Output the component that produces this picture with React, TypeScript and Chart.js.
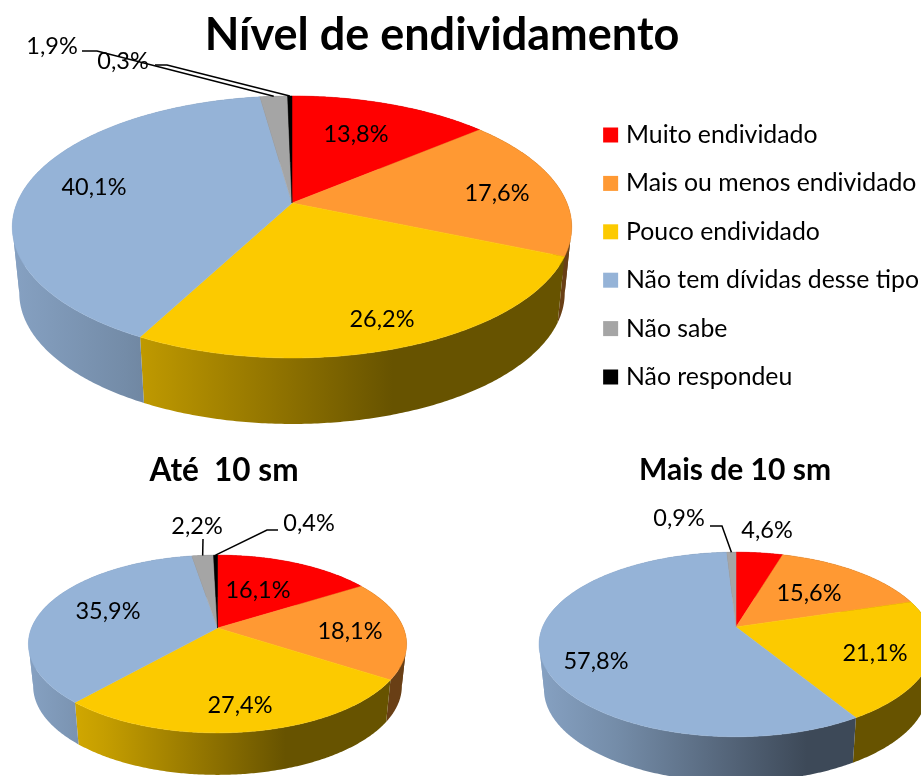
import React, { useEffect, useRef } from "react";
import { Chart, registerables } from "chart.js";

Chart.register(...registerables);

const categories = ["Muito endividado", "Mais ou menos endividado", "Pouco endividado", "Não tem dívidas desse tipo", "Não sabe", "Não respondeu"];
const geralValues = [13.8, 17.6, 26.2, 40.1, 1.9, 0.3];
const ate10Values = [16.1, 18.1, 27.4, 35.9, 2.2, 0.4];
const mais10Values = [4.6, 15.6, 21.1, 57.8, 0.9];
const colors = ["#FF0000", "#FF9933", "#FCCA00", "#95B3D7", "#A5A5A5", "#000000"];

const FONT = "Lato, Carlito, Calibri, sans-serif";
const LABEL_SIZE = 23.5;
const WALL_SCALE = 0.975;

// shade of the pie's side wall across its width
const wallShade: [number, number][] = [[0, 0.9], [0.2, 0.78], [0.5, 0.55], [0.68, 0.41], [1, 0.41]];

type Cfg = {
  title: string; titleX: number; titleSize: number; titleTop: number;
  values: number[]; legend: boolean; width: number; height: number;
  cx: number; cy: number; A: number; B: number; p: number; depth: number;
  labelAt: [number, number][];
  leaders: Record<number, [number, number][]>;
};

const configs: Cfg[] = [
  {
    title: "Nível de endividamento", titleX: 442, titleSize: 45, titleTop: 8,
    values: geralValues, legend: true, width: 929, height: 512,
    cx: 292, cy: 203, A: 275, B: 126.6, p: 0.183, depth: 66,
    labelAt: [[356, 134], [497, 193], [382, 319], [94, 187], [52, 46], [123, 61]],
    leaders: { 4: [[82, 51], [97, 51]], 5: [[155, 65], [167, 65]] },
  },
  {
    title: "Até  10 sm", titleX: 224, titleSize: 31.5, titleTop: 452,
    values: ate10Values, legend: false, width: 921, height: 776,
    cx: 217.5, cy: 628, A: 186, B: 86, p: 0.18, depth: 42,
    labelAt: [[258, 590], [350, 631], [240, 705], [108, 611], [197, 526], [309, 523]],
    leaders: { 4: [[203, 539]], 5: [[278, 530], [267, 530]] },
  },
  {
    title: "Mais de 10 sm", titleX: 735, titleSize: 30, titleTop: 452,
    values: mais10Values, legend: false, width: 921, height: 776,
    cx: 736, cy: 627, A: 193.4, B: 89, p: 0.189, depth: 45,
    labelAt: [[767, 530], [809, 593], [875, 653], [596, 661], [679, 518]],
    leaders: { 4: [[710, 526], [722, 526]] },
  },
];

const fmt = (v: number) => v.toFixed(1).replace(".", ",") + "%";

function shade(hex: string, k: number) {
  const n = parseInt(hex.slice(1), 16);
  return `rgb(${Math.round(((n >> 16) & 255) * k)},${Math.round(((n >> 8) & 255) * k)},${Math.round((n & 255) * k)})`;
}

// cut a rim into runs between its leftmost and rightmost points
function splitAtExtremes(pts: number[][]) {
  const runs: number[][][] = [];
  let run: number[][] = [pts[0]];
  for (let j = 1; j < pts.length; j++) {
    run.push(pts[j]);
    const next = pts[j + 1];
    if (next && (pts[j][0] - pts[j - 1][0]) * (next[0] - pts[j][0]) < 0) {
      runs.push(run);
      run = [pts[j]];
    }
  }
  runs.push(run);
  return runs;
}

function perspectivePlugin(cfg: Cfg) {
  const project = (a: number, r = 1) => {
    const u = Math.cos(a) * r, v = Math.sin(a) * r;
    const w = 1 - cfg.p * v;
    return [cfg.cx + (cfg.A * u) / w, cfg.cy + (cfg.B * v) / w];
  };
  const arcPoints = (s: number, e: number) => {
    const n = Math.max(2, Math.ceil(Math.abs(e - s) / 0.01));
    const pts: number[][] = [];
    for (let i = 0; i <= n; i++) pts.push(project(s + ((e - s) * i) / n));
    return pts;
  };
  return {
    id: "perspectivePie",
    afterLayout(chart: any) {
      const t = chart.titleBlock;
      if (t) {
        const half = Math.max(t.right - cfg.titleX, cfg.titleX - t.left);
        t.left = cfg.titleX - half;
        t.right = cfg.titleX + half;
      }
    },
    beforeDatasetDraw(chart: any) {
      const ctx = chart.ctx;
      const arcs = chart.getDatasetMeta(0).data;
      const halfW = cfg.A / Math.sqrt(1 - cfg.p * cfg.p);
      ctx.save();
      // side walls, one band per run so the silhouette is closed at the tangent points;
      // the lower rim is farther from the viewer, so slightly narrower
      arcs.forEach((el: any, i: number) => {
        const g = ctx.createLinearGradient(cfg.cx - halfW, 0, cfg.cx + halfW, 0);
        wallShade.forEach(([f, k]) => g.addColorStop(f, shade(colors[i], k)));
        ctx.fillStyle = g;
        splitAtExtremes(arcPoints(el.startAngle, el.endAngle)).forEach((run) => {
          ctx.beginPath();
          run.forEach(([x, y], j) => (j ? ctx.lineTo(x, y) : ctx.moveTo(x, y)));
          run.slice().reverse().forEach(([x, y]) => ctx.lineTo(cfg.cx + (x - cfg.cx) * WALL_SCALE, y + cfg.depth));
          ctx.closePath();
          ctx.fill();
        });
      });
      // top faces
      arcs.forEach((el: any, i: number) => {
        const pts = arcPoints(el.startAngle, el.endAngle);
        ctx.beginPath();
        ctx.moveTo(cfg.cx, cfg.cy);
        pts.forEach(([x, y]) => ctx.lineTo(x, y));
        ctx.closePath();
        ctx.fillStyle = colors[i];
        ctx.strokeStyle = colors[i];
        ctx.lineWidth = 0.5;
        ctx.fill();
        ctx.stroke();
      });
      ctx.restore();
      return false;
    },
    afterDatasetsDraw(chart: any) {
      const ctx = chart.ctx;
      const arcs = chart.getDatasetMeta(0).data;
      ctx.save();
      // leader lines
      ctx.strokeStyle = "#000";
      ctx.lineWidth = 1.5;
      Object.entries(cfg.leaders).forEach(([k, pts]) => {
        const el = arcs[Number(k)];
        const end = project((el.startAngle + el.endAngle) / 2);
        ctx.beginPath();
        pts.forEach(([x, y], j) => (j ? ctx.lineTo(x, y) : ctx.moveTo(x, y)));
        ctx.lineTo(end[0], end[1]);
        ctx.stroke();
      });
      // value labels
      ctx.fillStyle = "#000";
      ctx.font = `${LABEL_SIZE}px ${FONT}`;
      ctx.textAlign = "center";
      ctx.textBaseline = "middle";
      cfg.values.forEach((v, i) => {
        const at = cfg.labelAt[i];
        if (at) ctx.fillText(fmt(v), at[0], at[1]);
      });
      ctx.restore();
    },
  };
}

function PieCanvas({ cfg }: { cfg: Cfg }) {
  const ref = useRef<HTMLCanvasElement>(null);
  useEffect(() => {
    const chart = new Chart(ref.current as HTMLCanvasElement, {
      type: "pie",
      data: {
        labels: categories.slice(0, cfg.values.length),
        datasets: [{ data: cfg.values, backgroundColor: colors, borderWidth: 0 }],
      },
      options: {
        animation: false,
        responsive: false,
        plugins: {
          tooltip: { enabled: false },
          title: {
            display: true,
            text: cfg.title,
            color: "#000",
            align: "center",
            padding: { top: cfg.titleTop, bottom: 0 },
            font: { family: FONT, size: cfg.titleSize, weight: "bold" },
          },
          legend: {
            display: cfg.legend,
            position: "right",
            labels: {
              color: "#000",
              usePointStyle: true,
              pointStyle: "rect",
              boxWidth: 6,
              boxHeight: 15,
              padding: 23.6,
              font: { family: FONT, size: 24.8 },
            },
          },
        },
      },
      plugins: [perspectivePlugin(cfg) as any],
    });
    return () => chart.destroy();
  }, [cfg]);
  return (
    <canvas
      ref={ref}
      width={cfg.width}
      height={cfg.height}
      style={{ position: "absolute", left: 0, top: 0, width: cfg.width, height: cfg.height }}
    />
  );
}

export default function App() {
  return (
    <div style={{ position: "fixed", inset: 0, overflow: "hidden", background: "#fff" }}>
      {configs.map((c) => (
        <PieCanvas key={c.title} cfg={c} />
      ))}
    </div>
  );
}
